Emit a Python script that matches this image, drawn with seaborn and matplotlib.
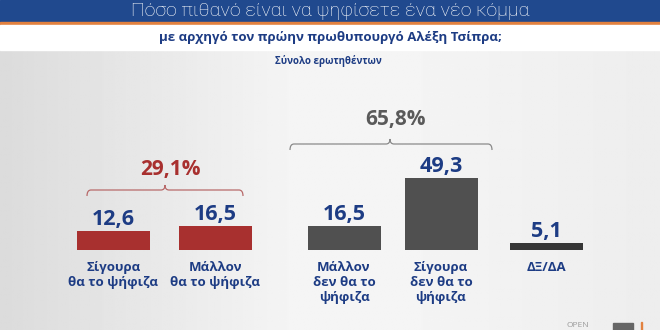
import numpy as np
import pandas as pd
import matplotlib
matplotlib.use("Agg")
import matplotlib.pyplot as plt
import seaborn as sns
from matplotlib.path import Path
from matplotlib.patches import PathPatch, Rectangle

# ---- data ----
categories = ["Σίγουρα\nθα το ψήφιζα", "Μάλλον\nθα το ψήφιζα",
              "Μάλλον\nδεν θα το\nψήφιζα", "Σίγουρα\nδεν θα το\nψήφιζα", "ΔΞ/ΔΑ"]
values = [12.6, 16.5, 16.5, 49.3, 5.1]
value_labels = ["12,6", "16,5", "16,5", "49,3", "5,1"]
group_labels = ["29,1%", "65,8%"]
title = "Πόσο πιθανό είναι να ψηφίσετε ένα νέο κόμμα"
subtitle = "με αρχηγό τον πρώην πρωθυπουργό Αλέξη Τσίπρα;"
note = "Σύνολο ερωτηθέντων"

# ---- layout / style ----
W, H = 660, 330
positions = [113.5, 215.5, 344, 441, 546]   # bar centres in pixels
bar_w = 73
baseline_px = 250
px_per_unit = 1.47
bar_colors = ["#a8302f", "#a8302f", "#505050", "#505050", "#363636"]
navy = "#1d3c84"
red = "#a8302f"
grey = "#5a5a5a"
FAM = ["Open Sans", "DejaVu Sans"]

sns.set_theme(style="white")
plt.rcParams["font.family"] = FAM

fig = plt.figure(figsize=(W / 100, H / 100), dpi=100)

# background axes in pixel coordinates (y down)
bg = fig.add_axes([0, 0, 1, 1], zorder=0)
bg.set_xlim(0, W)
bg.set_ylim(H, 0)
bg.axis("off")
xs = np.linspace(0, 1, 300)
row = 0.86 + 0.10 * np.clip(xs / 0.45, 0, 1) - 0.03 * np.clip((xs - 0.6) / 0.4, 0, 1)
grad = np.tile(row, (10, 1))
bg.imshow(grad, extent=[0, W, H, 50], cmap="gray", vmin=0, vmax=1, aspect="auto", zorder=0)
bg.add_patch(Rectangle((0, 0), W, 22, color="#20498e", zorder=1))
bg.add_patch(Rectangle((0, 22), W, 2.5, color="#e2813f", zorder=1))
bg.add_patch(Rectangle((0, 24.5), W, 25.5, color="white", zorder=1))
bg.text(W / 2, 11, title, color="white", fontsize=14, ha="center", va="center",
        family=["Roboto", "DejaVu Sans"], fontweight="light", zorder=2)
bg.text(W / 2, 37, subtitle, color=navy, fontsize=9.5, ha="center", va="center",
        fontweight="bold", zorder=2)
bg.text(328, 61, note, color=navy, fontsize=7, ha="center", va="center",
        fontweight="bold", zorder=2)


def bracket(ax, x0, x1, y, mid, color):
    d = 6
    verts = [(x0, y + d), (x0, y), (x0 + 4, y), (mid - 4, y), (mid, y), (mid, y - 5),
             (mid, y), (mid + 4, y), (x1 - 4, y), (x1, y), (x1, y + d)]
    codes = [Path.MOVETO, Path.CURVE3, Path.CURVE3, Path.LINETO, Path.CURVE3, Path.CURVE3,
             Path.CURVE3, Path.CURVE3, Path.LINETO, Path.CURVE3, Path.CURVE3]
    ax.add_patch(PathPatch(Path(verts, codes), fill=False, edgecolor=color, lw=0.9, zorder=3))


bracket(bg, 87, 243, 190, 165, "#b86a6a")
bracket(bg, 290, 492, 144, 390, "#8a8a8a")
bg.text(170, 170, group_labels[0], color=red, fontsize=15, fontweight="bold",
        ha="center", va="center", zorder=3)
bg.text(395, 120, group_labels[1], color=grey, fontsize=15, fontweight="bold",
        ha="center", va="center", zorder=3)

# logo fragment
bg.text(578, 329, "OPEN", color="#9a9a9a", fontsize=6, ha="center", va="bottom", zorder=3)
bg.add_patch(Rectangle((613, 323), 20, 7, color="#666666", zorder=3))
bg.add_patch(Rectangle((641, 322), 1.2, 8, color="#e2813f", zorder=3))

# bar axes
ax = fig.add_axes([0, 0, 1, 1], zorder=1)
ax.patch.set_alpha(0)
df = pd.DataFrame({"cat": categories, "pos": positions, "val": values})
sns.barplot(data=df, x="pos", y="val", hue="cat", palette=dict(zip(categories, bar_colors)),
            native_scale=True, dodge=False, width=bar_w / 97.0, legend=False,
            saturation=1, linewidth=0, ax=ax)
ax.set_xlim(0, W)
ax.set_ylim(-(H - baseline_px) / px_per_unit, baseline_px / px_per_unit)
ax.axis("off")

for p, v, lab, cat in zip(positions, values, value_labels, categories):
    ax.annotate(lab, (p, v), xytext=(0, 6), textcoords="offset pixels", ha="center",
                va="baseline", color=navy, fontsize=15.5, fontweight="bold")
    ax.text(p, 1 - 261 / H, cat, transform=ax.get_xaxis_transform(), ha="center", va="top",
            color=navy, fontsize=9.5, fontweight="bold", linespacing=1.2)

fig.savefig("out.png", dpi=100)
